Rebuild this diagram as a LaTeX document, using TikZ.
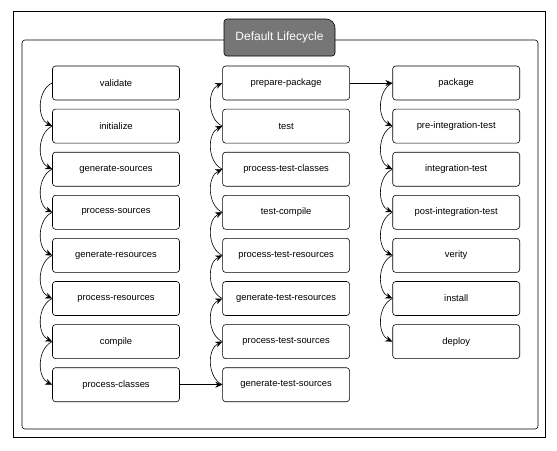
\documentclass[tikz,border=0pt]{standalone}
\usepackage{fontspec}
\setmainfont{Liberation Sans}
\usepackage{tikz}
\usetikzlibrary{positioning,arrows.meta}
\definecolor{lcgray}{HTML}{767676}

\begin{document}
\begin{tikzpicture}[x=1pt,y=-1pt,->,>={Stealth[length=7pt,width=6pt]},semithick,node distance=8.5pt and 42.5pt,
    phase/.style={draw,-,rounded corners=3pt,minimum width=127pt,minimum height=34pt,inner sep=0pt,font=\fontsize{9.4}{11}\selectfont},
    titletext/.style={text=white,font=\fontsize{12}{14}\selectfont}]
    \useasboundingbox (0,0) rectangle (557,450);
    \draw[-,thin] (13,11) rectangle (545,437);
    \draw[-,rounded corners=3pt] (22,40) rectangle (538,429);
    \draw[-,fill=lcgray] (224,37) [rounded corners=3pt] -- (224,19) -- (300,19) [rounded corners=9pt] -- (335,19) -- (335,40) [rounded corners=3pt] -- (335,56) -- (224,56) -- cycle;
    \node[titletext] (title) at (279.5,37.5) {Default Lifecycle};

    \node[phase] (validate) at (116,83) {validate};
    \node[phase] (init) [below=of validate] {initialize};
    \node[phase] (gensrc) [below=of init] {generate-sources};
    \node[phase] (procsrc) [below=of gensrc] {process-sources};
    \node[phase] (genres) [below=of procsrc] {generate-resources};
    \node[phase] (procres) [below=of genres] {process-resources};
    \node[phase] (compile) [below=of procres] {compile};
    \node[phase] (procclasses) [below=of compile] {process-classes};

    \node[phase] (gentestsrc) [right=of procclasses] {generate-test-sources};
    \node[phase] (proctestsrc) [above=of gentestsrc] {process-test-sources};
    \node[phase] (gentestres) [above=of proctestsrc] {generate-test-resources};
    \node[phase] (proctestres) [above=of gentestres] {process-test-resources};
    \node[phase] (testcompile) [above=of proctestres] {test-compile};
    \node[phase] (proctestclasses) [above=of testcompile] {process-test-classes};
    \node[phase] (test) [above=of proctestclasses] {test};
    \node[phase] (prepkg) [above=of test] {prepare-package};

    \node[phase] (pkg) [right=of prepkg] {package};
    \node[phase] (preit) [below=of pkg] {pre-integration-test};
    \node[phase] (it) [below=of preit] {integration-test};
    \node[phase] (postit) [below=of it] {post-integration-test};
    \node[phase] (verify) [below=of postit] {verity};
    \node[phase] (install) [below=of verify] {install};
    \node[phase] (deploy) [below=of install] {deploy};

    % down the first and last column, up the middle one
    \foreach \a/\b in {validate/init,init/gensrc,gensrc/procsrc,procsrc/genres,genres/procres,procres/compile,compile/procclasses,
        pkg/preit,preit/it,it/postit,postit/verify,verify/install,install/deploy}
        \draw (\a.west) to[bend right=65] (\b.west);
    \foreach \a/\b in {gentestsrc/proctestsrc,proctestsrc/gentestres,gentestres/proctestres,proctestres/testcompile,
        testcompile/proctestclasses,proctestclasses/test,test/prepkg}
        \draw (\a.west) to[bend left=65] (\b.west);

    \draw (procclasses) -- (gentestsrc);
    \draw (prepkg) -- (pkg);
\end{tikzpicture}
\end{document}
